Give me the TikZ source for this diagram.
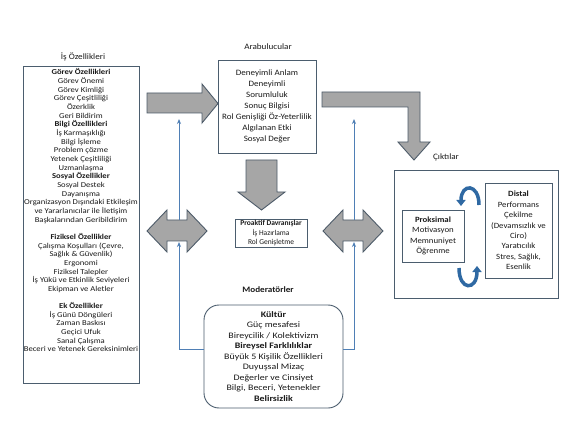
\documentclass[tikz,border=0pt]{standalone}
\usepackage{fontspec}
\setmainfont{Carlito}
\newfontfamily\wideA[FakeStretch=1.18]{Carlito}
\newfontfamily\wideB[FakeStretch=1.1]{Carlito}
\newfontfamily\wideC[FakeStretch=1.15]{Carlito}
\usetikzlibrary{arrows.meta,calc}
\definecolor{frameline}{HTML}{4B5D6E}
\definecolor{blockfill}{HTML}{A6A6A6}
\definecolor{blockline}{HTML}{4D5B69}
\definecolor{connblue}{HTML}{4F7FB5}
\definecolor{curveblue}{HTML}{2F69A3}
\definecolor{txt}{HTML}{1A1A1A}
\begin{document}
\begin{tikzpicture}[x=1pt,y=-1pt,
  frame/.style={draw=frameline,line width=0.9pt,inner sep=0pt},
  title/.style={font=\wideB\fontsize{8.3}{9.5}\selectfont,text=txt,inner sep=0pt},
  smalltext/.style={font=\wideC\fontsize{7.5}{8.66}\selectfont,text=txt,align=center,inner sep=0pt},
  midtext/.style={text=txt,align=center,inner sep=0pt},
  blockarrow/.style={fill=blockfill,draw=blockline,line width=0.9pt,line join=miter},
  conn/.style={draw=connblue,line width=1pt,-{Stealth[length=5pt,width=4pt]}},
  curvearrow/.style={draw=curveblue,line width=3.5pt,-{Triangle[length=6pt,width=9pt]}}]
\useasboundingbox (0,0) rectangle (575,430);
\fill[white] (0,0) rectangle (575,430);

% Job characteristics
\node[title] (jobtitle) at (83,57) {İş Özellikleri};
\node[frame,minimum width=116pt,minimum height=317pt] (job) at (81,224.5) {};
\node[smalltext,anchor=north] (jobtext) at ($(job.north)+(0,3)$) {%
\textbf{Görev Özellikleri}\\Görev Önemi\\Görev Kimliği\\Görev Çeşitliliği\\Özerklik\\Geri Bildirim\\
\textbf{Bilgi Özellikleri}\\İş Karmaşıklığı\\Bilgi İşleme\\Problem çözme\\Yetenek Çeşitliliği\\Uzmanlaşma\\
\textbf{Sosyal Özellikler}\\Sosyal Destek\\Dayanışma\\Organizasyon Dışındaki Etkileşim\\ve Yararlanıcılar ile İletişim\\Başkalarından Geribildirim\\[8.66pt]
\textbf{Fiziksel Özellikler}\\Çalışma Koşulları (Çevre,\\Sağlık \& Güvenlik)\\Ergonomi\\Fiziksel Talepler\\İş Yükü ve Etkinlik Seviyeleri\\Ekipman ve Aletler\\[8.66pt]
\textbf{Ek Özellikler}\\İş Günü Döngüleri\\Zaman Baskısı\\Geçici Ufuk\\Sanal Çalışma\\Beceri ve Yetenek Gereksinimleri};

% Mediators
\node[title] (medtitle) at (268,47) {Arabulucular};
\node[frame,minimum width=98pt,minimum height=93pt] (med) at (267,106.5) {};
\node[midtext,font=\wideB\fontsize{8.2}{11}\selectfont] (medtext) at (med.center) {Deneyimli Anlam\\Deneyimli\\Sorumluluk\\Sonuç Bilgisi\\Rol Genişliği Öz-Yeterlilik\\Algılanan Etki\\Sosyal Değer};

% Proactive behaviours
\node[frame,minimum width=72pt,minimum height=28pt,midtext,font=\fontsize{7.5}{9.5}\selectfont] (pro) at (271,233) {\textbf{Proaktif Davranışlar}\\İş Hazırlama\\Rol Genişletme};

% Moderators
\node[title,font=\wideB\bfseries\fontsize{8.3}{9.5}\selectfont] (modtitle) at (268,290) {Moderatörler};
\node[frame,rounded corners=15pt,minimum width=139pt,minimum height=103pt] (mod) at (273.5,356.5) {};
\node[midtext,font=\wideA\fontsize{8.4}{10.5}\selectfont] (modtext) at (mod.center) {\textbf{Kültür}\\Güç mesafesi\\Bireycilik / Kolektivizm\\\textbf{Bireysel Farklılıklar}\\Büyük 5 Kişilik Özellikleri\\Duyuşsal Mizaç\\Değerler ve Cinsiyet\\Bilgi, Beceri, Yetenekler\\\textbf{Belirsizlik}};

% Outcomes
\node[title] (outtitle) at (446,157) {Çıktılar};
\node[frame,minimum width=164pt,minimum height=128pt] (out) at (476,234) {};
\node[frame,minimum width=62pt,minimum height=52pt,midtext,font=\wideB\fontsize{8}{10.3}\selectfont] (prox) at (433,236) {\textbf{Proksimal}\\Motivasyon\\Memnuniyet\\Öğrenme};
\node[frame,minimum width=67pt,minimum height=95pt,midtext,font=\wideB\fontsize{8}{10.4}\selectfont] (dist) at (518.5,230.5) {\textbf{Distal}\\Performans\\Çekilme\\(Devamsızlık ve\\Ciro)\\Yaratıcılık\\Stres, Sağlık,\\Esenlik};

% Block arrows
\filldraw[blockarrow] (147,93) -- (202,93) -- (202,84) -- (218,103.5) -- (202,123) -- (202,113) -- (147,113) -- cycle;
\filldraw[blockarrow] (322,92) -- (420,92) -- (420,142) -- (430,142) -- (414,160) -- (398,142) -- (408,142) -- (408,107) -- (322,107) -- cycle;
\filldraw[blockarrow] (246,160) -- (277,160) -- (277,192) -- (285,192) -- (261.5,210) -- (238,192) -- (246,192) -- cycle;
\filldraw[blockarrow] (147,231) -- (167,210) -- (167,220) -- (187,220) -- (187,210) -- (207,231) -- (187,252) -- (187,241) -- (167,241) -- (167,252) -- cycle;
\filldraw[blockarrow] (323,231) -- (343,210) -- (343,220) -- (363,220) -- (363,210) -- (383,231) -- (363,252) -- (363,241) -- (343,241) -- (343,252) -- cycle;

% Moderator connectors
\coordinate (mL) at (204,349);
\coordinate (mR) at (343,349);
\coordinate (lc) at (179,349);
\coordinate (rc) at (354,349);
\coordinate (lb) at (179,242);
\coordinate (rb) at (354,242);
\coordinate (lt) at (179,220);
\coordinate (rt) at (354,220);
\coordinate (la) at (179,119);
\coordinate (ra) at (354,119);
\draw[conn] (mL) -- (lc) -- (lb);
\draw[conn] (mR) -- (rc) -- (rb);
\draw[conn] (lt) -- (la);
\draw[conn] (rt) -- (ra);

% Curved arrows between proximal and distal
\coordinate (c1s) at (479,205);
\coordinate (c1e) at (461,206);
\coordinate (c2s) at (459,268);
\coordinate (c2e) at (477,266);
\draw[curvearrow] (c1s) .. controls (479,183) and (461,183) .. (c1e);
\draw[curvearrow] (c2s) .. controls (459,291) and (477,291) .. (c2e);
\end{tikzpicture}
\end{document}
